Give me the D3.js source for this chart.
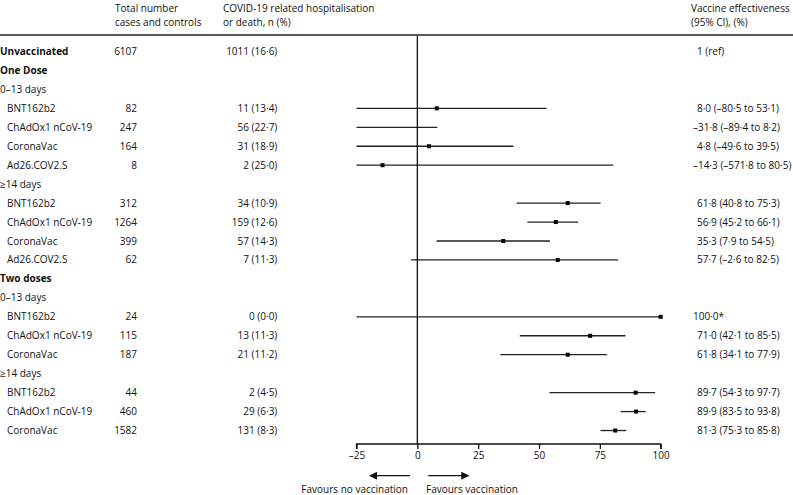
<!DOCTYPE html>
<html><head><meta charset="utf-8">
<script src="https://cdn.jsdelivr.net/npm/d3@7"></script>
<style>
body{margin:0;background:#fff;}
svg{display:block;font-family:"Open Sans",sans-serif;}
</style></head>
<body><svg id="c" width="793" height="495"></svg>
<script>
// ---- data ----
const rowLabels = ["Unvaccinated","One Dose","0–13 days","BNT162b2","ChAdOx1 nCoV-19","CoronaVac","Ad26.COV2.S","≥14 days","BNT162b2","ChAdOx1 nCoV-19","CoronaVac","Ad26.COV2.S","Two doses","0–13 days","BNT162b2","ChAdOx1 nCoV-19","CoronaVac","≥14 days","BNT162b2","ChAdOx1 nCoV-19","CoronaVac"];
const rowLevels = [0,0,1,2,2,2,2,1,2,2,2,2,0,1,2,2,2,1,2,2,2];
const totals = ["6107","","","82","247","164","8","","312","1264","399","62","","","24","115","187","","44","460","1582"];
const events = ["1011","","","11","56","31","2","","34","159","57","7","","","0","13","21","","2","29","131"];
const eventPct = ["16·6","","","13·4","22·7","18·9","25·0","","10·9","12·6","14·3","11·3","","","0·0","11·3","11·2","","4·5","6·3","8·3"];
const ve = [null,null,null,8.0,-31.8,4.8,-14.3,null,61.8,56.9,35.3,57.7,null,null,100.0,71.0,61.8,null,89.7,89.9,81.3];
const ciLow = [null,null,null,-80.5,-89.4,-49.6,-571.8,null,40.8,45.2,7.9,-2.6,null,null,-25,42.1,34.1,null,54.3,83.5,75.3];
const ciHigh = [null,null,null,53.1,8.2,39.5,80.5,null,75.3,66.1,54.5,82.5,null,null,100.0,85.5,77.9,null,97.7,93.8,85.8];
const veLabels = ["1 (ref)","","","8·0 (–80·5 to 53·1)","–31·8 (–89·4 to 8·2)","4·8 (–49·6 to 39·5)","–14·3 (–571·8 to 80·5)","","61·8 (40·8 to 75·3)","56·9 (45·2 to 66·1)","35·3 (7·9 to 54·5)","57·7 (–2·6 to 82·5)","","","100·0*","71·0 (42·1 to 85·5)","61·8 (34·1 to 77·9)","","89·7 (54·3 to 97·7)","89·9 (83·5 to 93·8)","81·3 (75·3 to 85·8)"];
const axisTicks = [-25,0,25,50,75,100];
const headers = [["Total number","cases and controls"],["COVID-19 related hospitalisation","or death, n (%)"],["Vaccine effectiveness","(95% CI), (%)"]];
const arrowLabels = ["Favours no vaccination","Favours vaccination"];

// ---- layout ----
const svg = d3.select("#c");
const fs = 10;
const x = d3.scaleLinear().domain([-25,100]).range([356.5,660.7]);
const y = d3.scaleBand().domain(d3.range(rowLabels.length)).range([41.5,439.5]);
const yc = i => y(i) + y.bandwidth()/2 + 0.5;

// headers
const hx = [115,223,691];
headers.forEach((h,k)=>{
  h.forEach((t,j)=>{
    svg.append("text").attr("x",hx[k]).attr("y",8+j*14).attr("dy","0.35em")
      .attr("font-size",fs).attr("fill","#111").text(t);
  });
});
svg.append("line").attr("x1",0).attr("x2",793).attr("y1",35).attr("y2",35)
  .attr("stroke","#222").attr("stroke-width",1.4);

// rows
const g = svg.append("g");
rowLabels.forEach((lab,i)=>{
  const cy = yc(i);
  g.append("text").attr("x",rowLevels[i]===2?7:0).attr("y",cy).attr("dy","0.35em")
    .attr("font-size",fs).attr("font-weight",rowLevels[i]===0?"bold":"normal")
    .attr("fill","#111").text(lab);
  if(totals[i]) g.append("text").attr("x",137).attr("y",cy).attr("dy","0.35em")
    .attr("text-anchor","end").attr("font-size",fs).attr("fill","#111").text(totals[i]);
  if(events[i]){
    const parts = eventPct[i].split("·");
    g.append("text").attr("x",266).attr("y",cy).attr("dy","0.35em")
      .attr("text-anchor","end").attr("font-size",fs).attr("fill","#111")
      .text(events[i]+" ("+parts[0]);
    g.append("text").attr("x",266).attr("y",cy).attr("dy","0.35em")
      .attr("font-size",fs).attr("fill","#111").text("·"+parts[1]+")");
  }
  if(veLabels[i]) g.append("text").attr("x",veLabels[i].startsWith("–")||veLabels[i].startsWith("100")?693:697)
    .attr("y",cy).attr("dy","0.35em").attr("font-size",fs).attr("fill","#111").text(veLabels[i]);
});

// zero line
svg.append("line").attr("x1",x(0)).attr("x2",x(0)).attr("y1",36).attr("y2",444)
  .attr("stroke","#111").attr("stroke-width",1.3);

// CIs
const clamp = v => Math.max(-25, Math.min(100, v));
ve.forEach((v,i)=>{
  if(v===null) return;
  g.append("line").attr("x1",x(clamp(ciLow[i]))).attr("x2",x(clamp(ciHigh[i])))
    .attr("y1",yc(i)).attr("y2",yc(i)).attr("stroke","#222").attr("stroke-width",1.3);
  if(v>=-25 && v<=100)
    g.append("rect").attr("x",x(v)-2).attr("y",yc(i)-2).attr("width",4).attr("height",4).attr("fill","#000");
});

// axis
const ax = svg.append("g").attr("transform","translate(0,444)")
  .call(d3.axisBottom(x).tickValues(axisTicks).tickSize(5).tickPadding(3)
    .tickFormat(d=> d<0 ? "–"+Math.abs(d) : d));
ax.select(".domain").attr("stroke","#111").attr("stroke-width",1.3).attr("d",`M${x(-25)},5V0H${x(100)}V5`);
ax.selectAll(".tick line").attr("stroke","#111").attr("stroke-width",1.3);
ax.selectAll(".tick text").attr("font-size",fs).attr("font-family","Open Sans").attr("fill","#111");

// arrows
const defs = svg.append("defs");
defs.append("marker").attr("id","ah").attr("viewBox","0 0 10 10").attr("refX",9).attr("refY",5)
  .attr("markerWidth",8).attr("markerHeight",8).attr("markerUnits","userSpaceOnUse").attr("orient","auto")
  .append("path").attr("d","M0,0L10,5L0,10Z").attr("fill","#111");
const ay = 475.7;
svg.append("line").attr("x1",x(-3)).attr("x2",x(-19.5)).attr("y1",ay).attr("y2",ay)
  .attr("stroke","#111").attr("stroke-width",1.3).attr("marker-end","url(#ah)");
svg.append("line").attr("x1",x(4.5)).attr("x2",x(21)).attr("y1",ay).attr("y2",ay)
  .attr("stroke","#111").attr("stroke-width",1.3).attr("marker-end","url(#ah)");
svg.append("text").attr("x",408).attr("y",489).attr("dy","0.35em").attr("text-anchor","end")
  .attr("font-size",fs).attr("fill","#111").text(arrowLabels[0]);
svg.append("text").attr("x",426).attr("y",489).attr("dy","0.35em")
  .attr("font-size",fs).attr("fill","#111").text(arrowLabels[1]);
</script></body></html>
